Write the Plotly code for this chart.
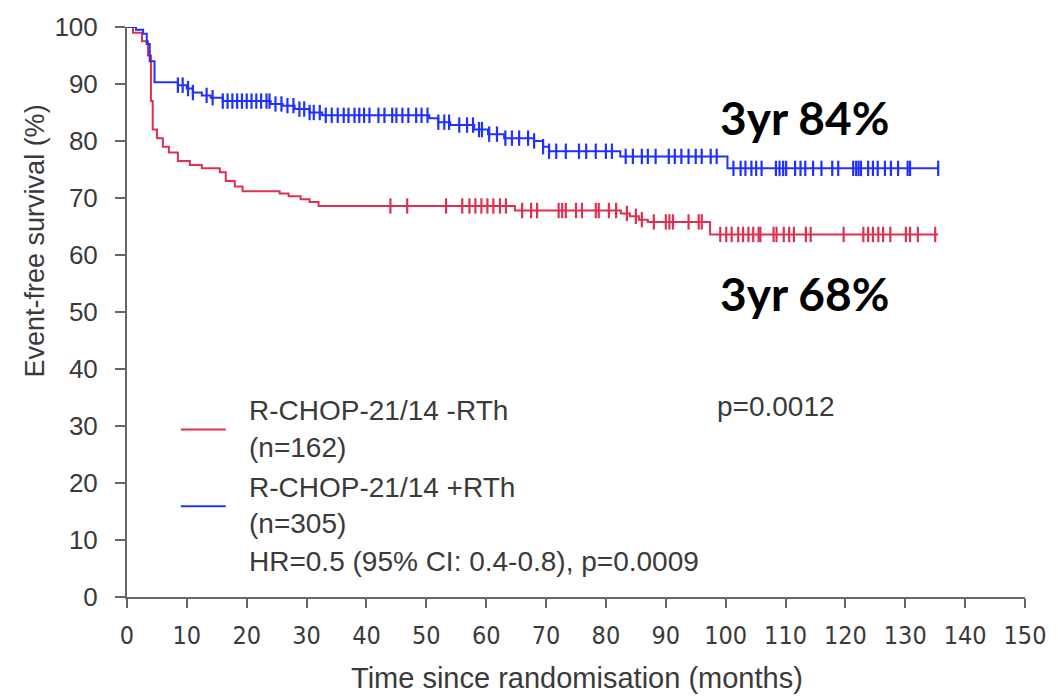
import plotly.graph_objects as go

# ---- data ----
red_t = [0, 1.0, 2.5, 3.5, 4.0, 4.3, 5.0, 6.0, 7.0, 8.5, 10.5, 12.5, 15.5, 16.5, 18.0, 19.3,
         25.5, 27.0, 29.0, 30.5, 32.0, 64.8, 82.5, 84.0, 85.5, 87.0, 97.4, 135.5]
red_s = [100, 99, 97.5, 95, 87, 82, 80.5, 79, 78, 76.5, 75.8, 75.2, 74.5, 73, 72, 71.2,
         70.8, 70.3, 69.8, 69.3, 68.6, 67.8, 67.3, 66.8, 66.2, 65.8, 63.6, 63.6]

blue_t = [0, 1.5, 2.7, 3.3, 3.8, 4.6, 8.5, 10.0, 11.0, 12.5, 14.0, 16.0, 24.0, 26.0, 28.0,
          30.5, 32.6, 50.5, 52.0, 54.0, 58.0, 60.3, 63.0, 68.0, 69.5, 70.5, 82.4, 100.3, 135.5]
blue_s = [100, 99.5, 98.8, 97, 94, 90.3, 89.8, 89.2, 88.5, 88.0, 87.6, 87.0, 86.5, 86.2, 85.6,
          85.0, 84.5, 84.0, 83.3, 82.8, 82.0, 81.2, 80.5, 80.0, 79.0, 78.2, 77.3, 75.2, 75.2]

red_censor = [44.0, 46.8, 53.3, 56.0, 57.2, 58.2, 59.2, 60.2, 61.2, 62.3, 63.3, 66.0, 67.5, 68.5,
              72.1, 72.7, 73.3, 75.0, 76.0, 78.3, 78.8, 80.5, 81.7, 83.5, 85.0, 86.0, 88.0, 90.0,
              90.6, 91.2, 93.8, 95.5, 96.0, 99.1, 100.1, 101.0, 102.1, 102.9, 103.8, 104.6, 105.5,
              105.8, 108.0, 108.5, 109.7, 110.6, 111.4, 113.4, 114.2, 119.7, 123.0, 123.8, 124.6,
              125.5, 126.3, 127.5, 130.1, 130.8, 132.1, 135.0]

blue_censor = [8.5, 9.3, 10.2, 11.0, 13.3, 14.3, 16.0, 16.8, 17.6, 18.4, 19.2, 20.0, 20.8, 21.6,
               22.4, 23.3, 23.8, 24.8, 25.8, 26.8, 27.8, 28.8, 29.6, 30.5, 31.2, 32.2, 33.2, 34.2,
               35.2, 36.2, 37.0, 38.0, 38.8, 39.6, 40.5, 42.0, 43.0, 44.3, 45.0, 46.0, 47.0, 48.3,
               49.2, 50.2, 52.0, 53.0, 53.8, 55.5, 56.8, 57.8, 58.8, 59.3, 60.5, 61.8, 63.2, 64.3,
               65.5, 67.0, 68.0, 69.5, 70.5, 71.7, 73.3, 75.5, 76.7, 78.3, 80.0, 81.0, 83.3, 84.5,
               86.0, 87.0, 88.3, 90.5, 91.5, 92.6, 93.8, 95.0, 96.0, 97.5, 98.5, 101.3, 102.5,
               103.3, 104.3, 105.1, 106.0, 108.4, 109.0, 109.6, 110.1, 111.6, 112.5, 113.3, 114.6,
               116.0, 117.8, 118.8, 121.3, 121.8, 122.2, 122.6, 123.8, 124.6, 125.4, 126.6, 127.6,
               128.8, 130.4, 130.8, 135.5]

x_ticks = list(range(0, 151, 10))
y_ticks = list(range(0, 101, 10))

legend_red = ["R-CHOP-21/14 -RTh", "(n=162)"]
legend_blue = ["R-CHOP-21/14 +RTh", "(n=305)"]
hr_text = "HR=0.5 (95% CI: 0.4-0.8), p=0.0009"
p_text = "p=0.0012"
label_blue = "3yr 84%"
label_red = "3yr 68%"

RED = "#e0304f"
BLUE = "#2030ff"


def step_value(ts, ss, t):
    v = ss[0]
    for ti, si in zip(ts, ss):
        if ti <= t:
            v = si
        else:
            break
    return v


fig = go.Figure()
for ts, ss, cens, col in [(red_t, red_s, red_censor, RED), (blue_t, blue_s, blue_censor, BLUE)]:
    fig.add_trace(go.Scatter(x=ts, y=ss, mode="lines", line=dict(color=col, width=2, shape="hv"),
                             cliponaxis=False, showlegend=False, hoverinfo="skip"))
    fig.add_trace(go.Scatter(x=cens, y=[step_value(ts, ss, c) for c in cens], mode="markers",
                             marker=dict(symbol="line-ns", size=11, line=dict(color=col, width=2.2)),
                             cliponaxis=False, showlegend=False, hoverinfo="skip"))

# plot area in pixels: x 127..1027, y 25..597
L, R, T, B = 127, 1027, 25, 597


def px(x):
    return (x - L) / (R - L)


def py(y):
    return (B - y) / (B - T)


GREY = "#3a3a3a"
ann = []
ann.append(dict(text="Time since randomisation (months)", x=px(578), y=py(678), xref="paper", yref="paper",
                showarrow=False, xanchor="center", yanchor="middle",
                font=dict(family="Liberation Sans, Arial", size=29, color=GREY)))
ann.append(dict(text="Event-free survival (%)", x=px(35), y=py(240), xref="paper", yref="paper",
                showarrow=False, xanchor="center", yanchor="middle", textangle=-90,
                font=dict(family="Liberation Sans, Arial", size=27, color=GREY)))
leg_font = dict(family="Liberation Sans, Arial", size=28, color=GREY)
for txt, yy in [(legend_red[0], 410), (legend_red[1], 447), (legend_blue[0], 487),
                (legend_blue[1], 523), (hr_text, 561)]:
    ann.append(dict(text=txt, x=px(247), y=py(yy), xref="paper", yref="paper", showarrow=False,
                    xanchor="left", yanchor="middle", font=leg_font))
ann.append(dict(text=p_text, x=px(716), y=py(406), xref="paper", yref="paper", showarrow=False,
                xanchor="left", yanchor="middle", font=leg_font))
big = dict(family="Lato, Open Sans", size=46, color="#000000")
ann.append(dict(text="<b>" + label_blue + "</b>", x=px(719), y=py(116), xref="paper", yref="paper",
                showarrow=False, xanchor="left", yanchor="middle", font=big))
ann.append(dict(text="<b>" + label_red + "</b>", x=px(719), y=py(292), xref="paper", yref="paper",
                showarrow=False, xanchor="left", yanchor="middle", font=big))

shapes = [
    dict(type="line", xref="paper", yref="paper", x0=px(181), x1=px(226), y0=py(429), y1=py(429),
         line=dict(color=RED, width=2)),
    dict(type="line", xref="paper", yref="paper", x0=px(181), x1=px(226), y0=py(506), y1=py(506),
         line=dict(color=BLUE, width=2)),
]

fig.update_layout(
    width=1058, height=696,
    margin=dict(l=L, r=1058 - R, t=T, b=696 - B),
    paper_bgcolor="white", plot_bgcolor="white",
    annotations=ann, shapes=shapes,
    xaxis=dict(range=[0, 150], tickvals=x_ticks, ticktext=[str(v) for v in x_ticks],
               showgrid=False, zeroline=False, showline=True, linecolor="#666", linewidth=2,
               ticks="outside", ticklen=9, tickwidth=2, tickcolor="#666", ticklabelstandoff=6,
               tickfont=dict(family="Liberation Sans Narrow, DejaVu Sans Condensed, Arial", size=25, color=GREY)),
    yaxis=dict(range=[0, 100], tickvals=y_ticks, ticktext=[str(v) for v in y_ticks],
               showgrid=False, zeroline=False, showline=True, linecolor="#666", linewidth=2,
               ticks="outside", ticklen=10, tickwidth=2, tickcolor="#666", ticklabelstandoff=12,
               tickfont=dict(family="Liberation Sans, Arial", size=26, color=GREY)),
)

fig.write_html("out.html", config={"displayModeBar": False, "staticPlot": True},
               post_script="document.body.style.margin='0px';document.body.style.overflow='hidden';")
